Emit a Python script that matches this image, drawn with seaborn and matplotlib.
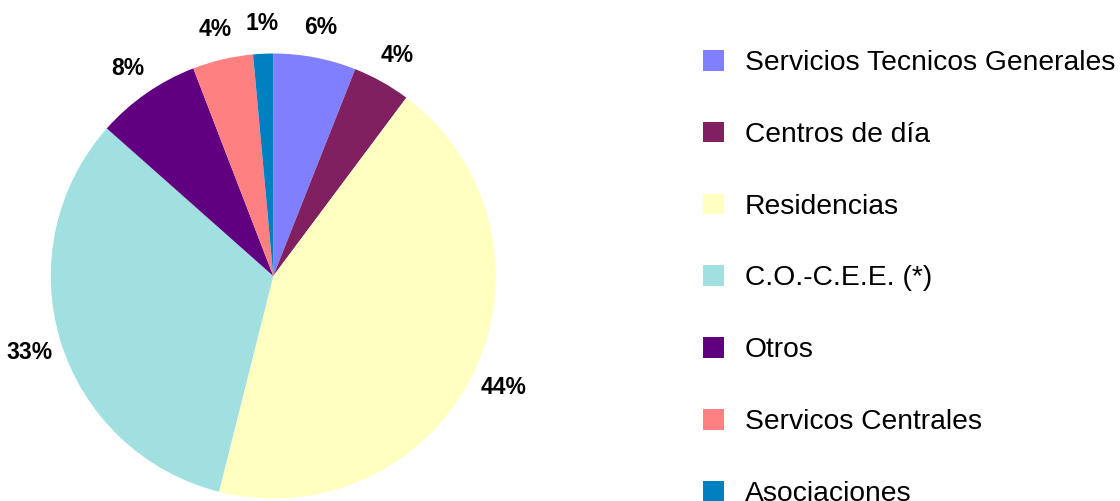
import matplotlib
matplotlib.use("Agg")
import numpy as np
import matplotlib.pyplot as plt
import seaborn as sns

categories = [
    "Servicios Tecnicos Generales",
    "Centros de día",
    "Residencias",
    "C.O.-C.E.E. (*)",
    "Otros",
    "Servicos Centrales",
    "Asociaciones",
]
values = [6.0, 4.2, 43.7, 32.6, 7.6, 4.4, 1.45]
colors = ["#8080FF", "#802060", "#FFFFC0", "#A0E0E0", "#600080", "#FF8080", "#0080C0"]

sns.set_theme(style="white")
plt.rcParams["font.family"] = ["Liberation Sans", "DejaVu Sans"]
plt.rcParams["text.color"] = "black"

palette = sns.color_palette(colors)

fig = plt.figure(figsize=(11.2, 5.01), dpi=100)
ax = fig.add_axes([0.04536, 0.00499, 0.3973, 0.8882])

wedges, _ = ax.pie(
    values,
    colors=palette,
    startangle=90,
    counterclock=False,
    labels=None,
    wedgeprops=dict(linewidth=0),
)
ax.set_xlim(-1, 1)
ax.set_ylim(-1, 1)
ax.set_aspect("equal")
ax.axis("off")

# percentage labels outside the pie, centred on each wedge's mid-angle
total = float(sum(values))
label_fs = 16.5
label_dist = 1.145
for w, v in zip(wedges, values):
    mid = np.deg2rad((w.theta1 + w.theta2) / 2.0)
    ax.annotate(
        f"{100.0 * v / total:.0f}%",
        xy=(label_dist * np.cos(mid), label_dist * np.sin(mid)),
        xytext=(0, -0.358 * label_fs),
        textcoords="offset points",
        ha="center",
        va="baseline",
        fontsize=label_fs,
        fontweight="bold",
        color="black",
        annotation_clip=False,
    )

fig.legend(
    wedges,
    categories,
    loc="upper left",
    bbox_to_anchor=(703 / 1120, 1 - 50 / 501),
    frameon=False,
    fontsize=20.3,
    handlelength=0.745,
    handleheight=0.745,
    handletextpad=0.74,
    labelspacing=1.62,
    borderpad=0,
    borderaxespad=0,
    labelcolor="black",
)

fig.savefig("out.png", dpi=100, facecolor="white")
